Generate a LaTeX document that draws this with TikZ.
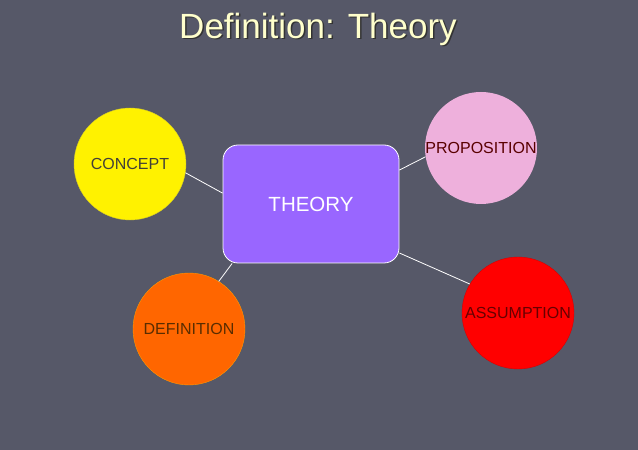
\documentclass[tikz,border=0pt]{standalone}
\usepackage{fontspec}
\setmainfont{Liberation Sans}
\definecolor{slidebg}{HTML}{565868}
\definecolor{titlecol}{HTML}{FFFFCC}
\definecolor{theorycol}{HTML}{9966FF}
\definecolor{propcol}{HTML}{EEB0DC}
\definecolor{defcol}{HTML}{FF6600}
\definecolor{assumcol}{HTML}{FF0000}

\begin{document}
\begin{tikzpicture}[x=1pt,y=1pt,
  bubble/.style={circle, minimum size=112pt, inner sep=0pt},
  bubbletext/.style={font=\fontsize{16}{19}\selectfont},
  link/.style={white, line width=0.8pt}]

  % Slide background
  \fill[slidebg] (0,0) rectangle (638,450);
  \useasboundingbox (0,0) rectangle (638,450);

  % Title with its shadow
  \node[black!80, font=\fontsize{35}{42}\selectfont] (titleshadow) at (319.5,419.5) {Definition: Theory};
  \node[titlecol, font=\fontsize{35}{42}\selectfont] (title) at (318,421) {Definition: Theory};

  % Central box
  \node[draw=white, line width=0.8pt, fill=theorycol, rounded corners=15pt,
        minimum width=176pt, minimum height=118pt, text=white,
        font=\fontsize{20.5}{24}\selectfont] (theory) at (311,246) {THEORY};

  % Surrounding circles
  \node[bubble, draw=yellow!80!black, fill=yellow,
        label={[bubbletext, text=black!85!yellow]center:CONCEPT}] (concept) at (130,286) {};
  \node[bubble, fill=propcol,
        label={[bubbletext, text=black!65!red]center:PROPOSITION}] (proposition) at (481,302) {};
  \node[bubble, draw=orange!80!yellow, fill=defcol,
        label={[bubbletext, text=black!65!orange]center:DEFINITION}] (definition) at (189,121) {};
  \node[bubble, draw=red!85!black, fill=assumcol,
        label={[bubbletext, text=black!60!red]center:ASSUMPTION}] (assumption) at (518,137) {};

  % Links to the box
  \draw[link] (concept.-9) -- (theory.173);
  \draw[link] (theory.21) -- (proposition.189);
  \draw[link] (theory.217) -- (definition.58);
  \draw[link] (theory.-29) -- (assumption.149);

\end{tikzpicture}
\end{document}
